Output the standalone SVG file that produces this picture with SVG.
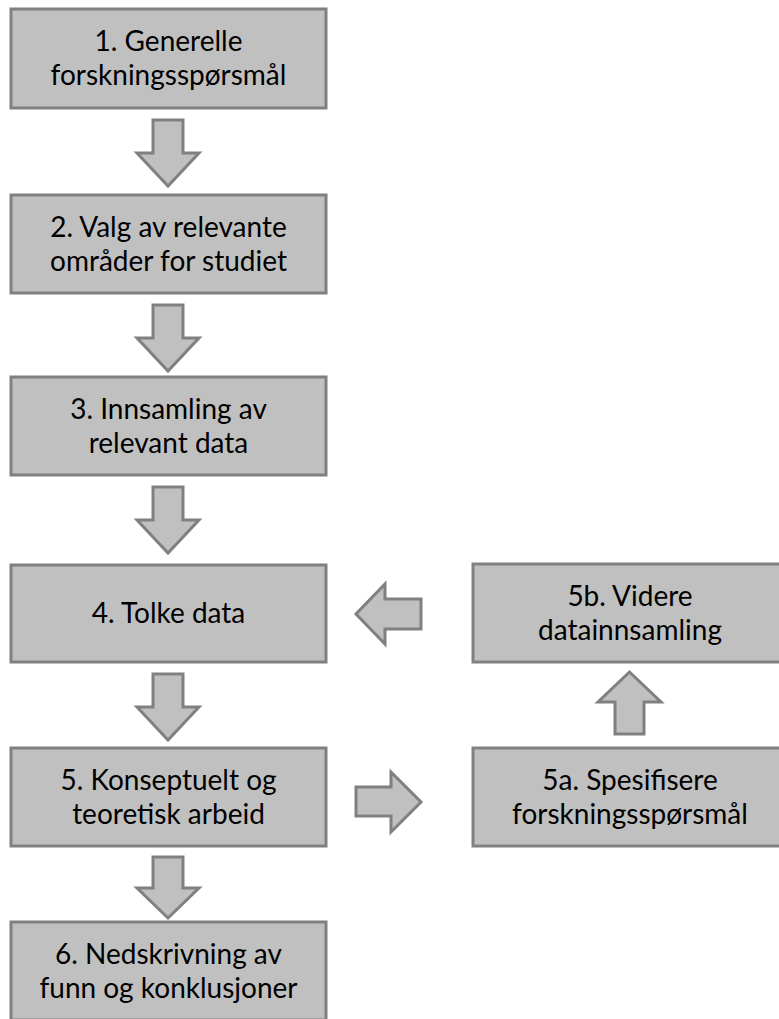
<svg xmlns="http://www.w3.org/2000/svg" width="779" height="1019" viewBox="0 0 779 1019">
  <style>
    .box { fill: #c0c0c0; stroke: #808080; stroke-width: 3; }
    .arrow { fill: #c0c0c0; stroke: #808080; stroke-width: 3; stroke-linejoin: miter; }
    .label { font-family: Lato, "Liberation Sans", sans-serif; font-size: 28px; fill: #000; text-anchor: middle; }
  </style>
  <rect width="779" height="1019" fill="#ffffff"/>

  <!-- connectors: block arrows between the steps -->
  <g id="connectors">
    <polygon class="arrow" points="153,120 183,120 183,153 199,153 168,186 137,153 153,153"/>
    <polygon class="arrow" points="153,305 183,305 183,338 199,338 168,371 137,338 153,338"/>
    <polygon class="arrow" points="153,487 183,487 183,520 199,520 168,553 137,520 153,520"/>
    <polygon class="arrow" points="153,674 183,674 183,707 199,707 168,740 137,707 153,707"/>
    <polygon class="arrow" points="153,857 183,857 183,888 199,888 168,918 137,888 153,888"/>
    <!-- 5b back to 4 -->
    <polygon class="arrow" points="421,599 421,629 385,629 385,644 356,614 385,584 385,599"/>
    <!-- 5 to 5a -->
    <polygon class="arrow" points="356,787 391,787 391,772 421,802 391,832 391,816 356,816"/>
    <!-- 5a up to 5b -->
    <polygon class="arrow" points="615,734 615,702 598,702 629.5,672 661,702 644,702 644,734"/>
  </g>

  <g id="step1">
    <rect class="box" x="11" y="9" width="315" height="99"/>
    <text class="label" x="168.5" y="51">1. Generelle</text>
    <text class="label" x="168.5" y="85">forskningsspørsmål</text>
  </g>
  <g id="step2">
    <rect class="box" x="11" y="195" width="315" height="98"/>
    <text class="label" x="168.5" y="236.5">2. Valg av relevante</text>
    <text class="label" x="168.5" y="270.5">områder for studiet</text>
  </g>
  <g id="step3">
    <rect class="box" x="11" y="377" width="315" height="98"/>
    <text class="label" x="168.5" y="418.5">3. Innsamling av</text>
    <text class="label" x="168.5" y="452.5">relevant data</text>
  </g>
  <g id="step4">
    <rect class="box" x="11" y="565" width="315" height="97"/>
    <text class="label" x="168.5" y="623">4. Tolke data</text>
  </g>
  <g id="step5">
    <rect class="box" x="11" y="748" width="315" height="98"/>
    <text class="label" x="168.5" y="789.5">5. Konseptuelt og</text>
    <text class="label" x="168.5" y="823.5">teoretisk arbeid</text>
  </g>
  <g id="step6">
    <rect class="box" x="11" y="922" width="315" height="98"/>
    <text class="label" x="168.5" y="963.5">6. Nedskrivning av</text>
    <text class="label" x="168.5" y="997.5">funn og konklusjoner</text>
  </g>
  <g id="step5b">
    <rect class="box" x="473" y="564" width="315" height="98"/>
    <text class="label" x="630" y="605.5">5b. Videre</text>
    <text class="label" x="630" y="639.5">datainnsamling</text>
  </g>
  <g id="step5a">
    <rect class="box" x="473" y="748" width="315" height="98"/>
    <text class="label" x="630" y="789.5">5a. Spesifisere</text>
    <text class="label" x="630" y="823.5">forskningsspørsmål</text>
  </g>
</svg>
